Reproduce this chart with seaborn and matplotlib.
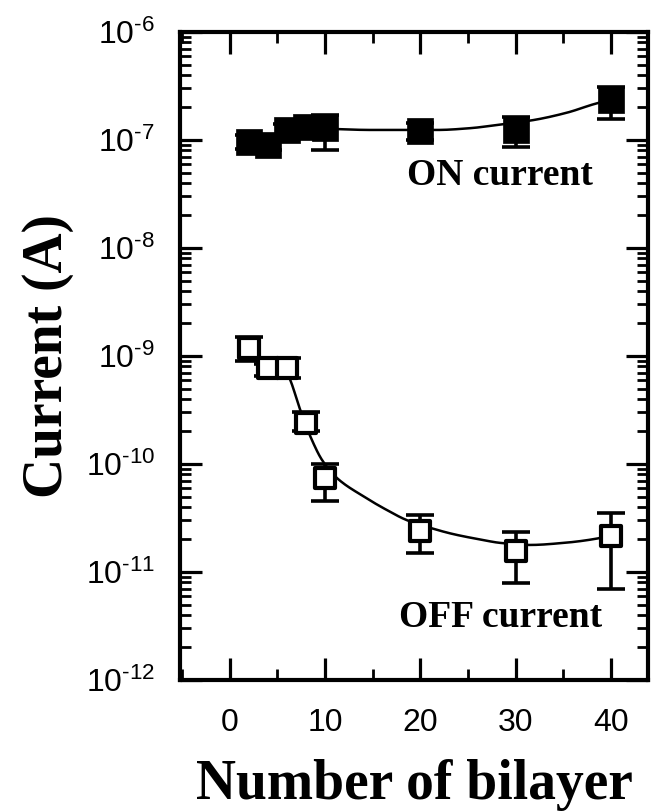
import numpy as np
import matplotlib
matplotlib.use("Agg")
import matplotlib.pyplot as plt
import seaborn as sns
from matplotlib.ticker import FixedLocator, LogLocator, NullFormatter, MultipleLocator

# ---- data ----
bilayers = [2, 4, 6, 8, 10, 20, 30, 40]
on_current = [0.96e-7, 0.90e-7, 1.24e-7, 1.33e-7, 1.28e-7, 1.20e-7, 1.24e-7, 2.35e-7]
on_low = [0.82e-7, 0.80e-7, 1.10e-7, 1.20e-7, 0.81e-7, 1.00e-7, 0.87e-7, 1.58e-7]
on_high = [1.12e-7, 1.02e-7, 1.40e-7, 1.46e-7, 1.70e-7, 1.45e-7, 1.65e-7, 3.10e-7]

off_current = [1.18e-9, 7.7e-10, 7.7e-10, 2.4e-10, 7.4e-11, 2.4e-11, 1.55e-11, 2.15e-11]
off_low = [0.90e-9, 6.5e-10, 6.2e-10, 2.0e-10, 4.5e-11, 1.5e-11, 7.9e-12, 7.0e-12]
off_high = [1.50e-9, 8.5e-10, 9.5e-10, 3.0e-10, 1.0e-10, 3.4e-11, 2.35e-11, 3.5e-11]

# fitted guide curves
on_fit_x = [10.0, 14.8, 21.8, 25.3, 28.1, 31.9, 35.4, 38.55, 40.0]
on_fit_y = [1.274e-7, 1.239e-7, 1.239e-7, 1.288e-7, 1.380e-7, 1.531e-7, 1.791e-7,
            2.188e-7, 2.344e-7]
off_fit_x = [6.0, 6.37, 7.42, 8.65, 9.7, 11.27, 14.06, 16.5, 18.6, 21.4, 23.5, 26.3,
             28.4, 31.55, 35.05, 38.55, 40.0]
off_fit_y = [7.1e-10, 6.0e-10, 3.16e-10, 1.66e-10, 1.09e-10, 7.41e-11, 5.01e-11,
             3.75e-11, 3.02e-11, 2.51e-11, 2.24e-11, 2.0e-11, 1.86e-11, 1.78e-11,
             1.86e-11, 2.04e-11, 2.19e-11]

x_ticks = [0, 10, 20, 30, 40]
y_ticks = [1e-12, 1e-11, 1e-10, 1e-9, 1e-8, 1e-7, 1e-6]
y_exponents = ["-12", "-11", "-10", "-9", "-8", "-7", "-6"]


def pchip(xk, yk, xs):
    xk = np.asarray(xk, float); yk = np.asarray(yk, float)
    h = np.diff(xk); delta = np.diff(yk) / h
    n = len(xk)
    d = np.zeros(n)
    for i in range(1, n - 1):
        if delta[i - 1] * delta[i] > 0:
            w1 = 2 * h[i] + h[i - 1]; w2 = h[i] + 2 * h[i - 1]
            d[i] = (w1 + w2) / (w1 / delta[i - 1] + w2 / delta[i])
    d[0] = delta[0]; d[-1] = delta[-1]
    out = np.empty(len(xs))
    for j, x in enumerate(xs):
        i = min(max(np.searchsorted(xk, x) - 1, 0), n - 2)
        t = (x - xk[i]) / h[i]
        h00 = 2 * t ** 3 - 3 * t ** 2 + 1; h10 = t ** 3 - 2 * t ** 2 + t
        h01 = -2 * t ** 3 + 3 * t ** 2; h11 = t ** 3 - t ** 2
        out[j] = h00 * yk[i] + h10 * h[i] * d[i] + h01 * yk[i + 1] + h11 * h[i] * d[i + 1]
    return out


sns.set_theme(style="ticks")
plt.rcParams["font.family"] = ["Liberation Sans", "DejaVu Sans"]
plt.rcParams["mathtext.fontset"] = "custom"
plt.rcParams["mathtext.rm"] = "Liberation Sans"
plt.rcParams["mathtext.it"] = "Liberation Sans:italic"
plt.rcParams["mathtext.bf"] = "Liberation Sans:bold"
for k in ["text.color", "axes.labelcolor", "xtick.color", "ytick.color", "axes.edgecolor"]:
    plt.rcParams[k] = "black"

fig = plt.figure(figsize=(6.61, 8.11), dpi=100)
ax = fig.add_axes([180 / 661, 1 - 680 / 811, 468 / 661, 648 / 811])
ax.set_yscale("log")

bx = np.array(bilayers, float)

xs_on = np.linspace(on_fit_x[0], on_fit_x[-1], 200)
ys_on = 10 ** pchip(on_fit_x, np.log10(on_fit_y), xs_on)
xs_off = np.linspace(off_fit_x[0], off_fit_x[-1], 300)
ys_off = 10 ** pchip(off_fit_x, np.log10(off_fit_y), xs_off)

sns.lineplot(x=xs_on, y=ys_on, ax=ax, color="black", linewidth=1.8, zorder=1)
sns.lineplot(x=xs_off, y=ys_off, ax=ax, color="black", linewidth=1.8, zorder=1)

for cur, lo, hi in [(on_current, on_low, on_high), (off_current, off_low, off_high)]:
    cur = np.array(cur); lo = np.array(lo); hi = np.array(hi)
    ax.errorbar(bx, cur, yerr=[cur - lo, hi - cur], fmt="none", ecolor="black",
                elinewidth=2.6, capsize=10, capthick=2.6, zorder=2)

sns.scatterplot(x=bx, y=on_current, ax=ax, marker="s", s=370, color="black",
                edgecolor="black", linewidth=0.5, zorder=3)
sns.scatterplot(x=bx, y=off_current, ax=ax, marker="s", s=225, facecolor="white",
                edgecolor="black", linewidth=3.0, zorder=3)

ax.set_xlim(-5.2, 43.9)
ax.set_ylim(1e-12, 1e-6)

ax.xaxis.set_major_locator(FixedLocator(x_ticks))
ax.xaxis.set_minor_locator(MultipleLocator(5))
ax.set_xticklabels([str(t) for t in x_ticks])
ax.yaxis.set_major_locator(FixedLocator(y_ticks))
ax.set_yticklabels([r"$\mathrm{10}^{\text{%s}}$" % e for e in y_exponents])
ax.yaxis.set_minor_locator(LogLocator(base=10, subs=np.arange(2, 10), numticks=20))
ax.yaxis.set_minor_formatter(NullFormatter())

ax.tick_params(which="both", direction="in", top=True, right=True, color="black")
ax.tick_params(which="major", length=16, width=2.3, labelsize=23, pad=20)
ax.tick_params(which="minor", length=8, width=2.0)
ax.tick_params(axis="y", which="major", pad=18)
for sp in ax.spines.values():
    sp.set_linewidth(3.0)
    sp.set_color("black")

ax.set_xlabel("Number of bilayer", family=["Liberation Serif"], fontweight="bold",
              fontsize=40, labelpad=15)
ax.set_ylabel("Current (A)", family=["Liberation Serif"], fontweight="bold",
              fontsize=40, labelpad=8)

ax.text(0.684, 0.779, "ON current", transform=ax.transAxes, ha="center", va="center",
        family=["Liberation Serif"], fontweight="bold", fontsize=27)
ax.text(0.684, 0.097, "OFF current", transform=ax.transAxes, ha="center", va="center",
        family=["Liberation Serif"], fontweight="bold", fontsize=27)

fig.savefig("out.png", dpi=100)
